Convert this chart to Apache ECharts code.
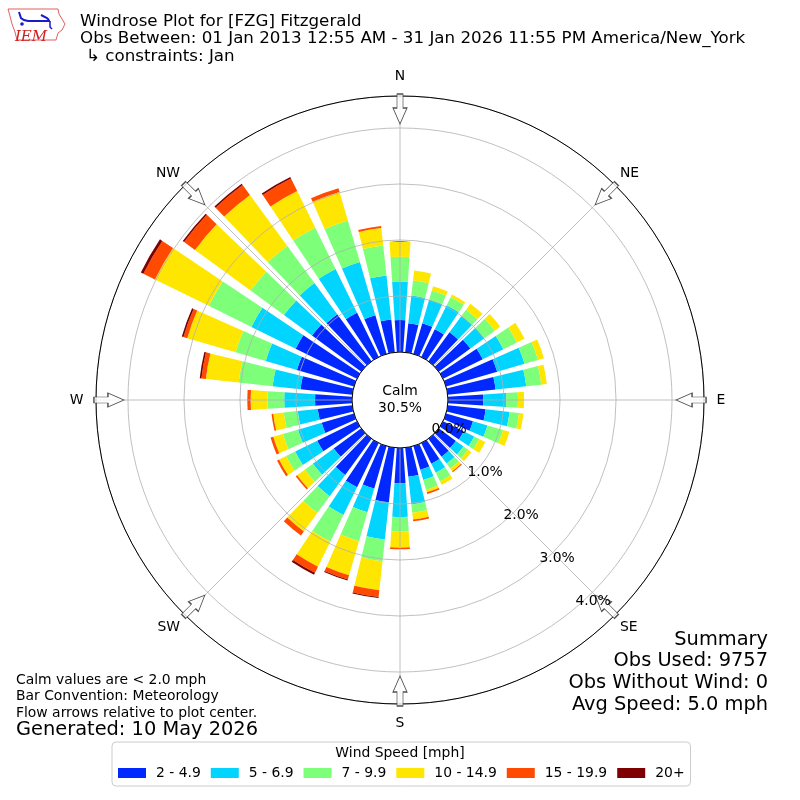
<!DOCTYPE html>
<html><head><meta charset="utf-8">
<script src="https://cdn.jsdelivr.net/npm/echarts@6/dist/echarts.min.js"></script>
<style>html,body{margin:0;padding:0;background:#fff}#c{width:800px;height:800px}</style>
</head><body><div id="c"></div>
<script>
// ---- data (percent of observations) ----
const directions = [0,10,20,30,40,50,60,70,80,90,100,110,120,130,140,150,160,170,180,190,200,210,220,230,240,250,260,270,280,290,300,310,320,330,340,350];
const speedBins = ['2 - 4.9','5 - 6.9','7 - 9.9','10 - 14.9','15 - 19.9','20+'];
const binColors = ['#0028ff','#00d4ff','#7dff7a','#ffe600','#ff4a00','#7f0000'];
const pct_2_5   = [0.57,0.52,0.57,0.55,0.64,0.70,0.79,0.95,0.86,0.63,0.68,0.50,0.41,0.38,0.40,0.41,0.44,0.52,0.63,0.98,0.79,0.88,0.80,0.61,0.79,0.60,0.62,0.66,0.93,1.06,1.22,1.09,1.04,0.88,0.72,0.59];
const pct_5_7   = [0.69,0.50,0.44,0.48,0.36,0.31,0.41,0.51,0.55,0.41,0.43,0.27,0.21,0.17,0.15,0.18,0.19,0.50,0.60,0.67,0.44,0.55,0.47,0.46,0.44,0.44,0.36,0.55,0.50,0.58,0.88,0.62,0.69,0.87,0.99,0.79];
const pct_7_10  = [0.44,0.27,0.17,0.16,0.14,0.23,0.27,0.25,0.27,0.21,0.17,0.29,0.10,0.10,0.11,0.17,0.18,0.15,0.26,0.39,0.54,0.53,0.37,0.18,0.18,0.28,0.25,0.30,0.61,0.56,0.85,0.74,0.82,0.82,0.77,0.54];
const pct_10_15 = [0.27,0.18,0.08,0.05,0.13,0.12,0.15,0.11,0.10,0.11,0.08,0.12,0.12,0.07,0.06,0.07,0.05,0.12,0.29,0.52,0.63,0.50,0.41,0.17,0.14,0.18,0.19,0.30,0.59,0.90,1.07,1.23,1.13,0.73,0.53,0.31];
const pct_15_20 = [0,0,0,0,0,0,0,0,0,0,0,0,0,0,0.02,0,0.03,0.03,0.03,0.12,0.08,0.12,0.09,0.03,0.04,0.05,0.03,0.06,0.08,0.07,0.23,0.24,0.22,0.25,0.07,0.04];
const pct_20p   = [0,0,0,0,0,0,0,0,0,0,0,0,0,0,0,0,0,0,0,0.02,0.02,0.04,0,0,0,0,0,0,0.03,0.03,0.05,0.03,0.03,0.03,0,0];
const calmPct = 30.5;
const radialTicks = [0,1,2,3,4];
const radialMax = 4.571;
const compassAngles = [0,45,90,135,180,225,270,315];
const compassLabels = ['N','NE','E','SE','S','SW','W','NW'];
const arrowRadius = 4.34;
const summaryLines = ['Summary','Obs Used: 9757','Obs Without Wind: 0','Avg Speed: 5.0 mph'];

const seriesValues = [pct_2_5, pct_5_7, pct_7_10, pct_10_15, pct_15_20, pct_20p];
const FONT = 'DejaVu Sans';

const chart = echarts.init(document.getElementById('c'), null, {renderer:'canvas'});

const barSeries = speedBins.map((name,i)=>({
  name, type:'bar', coordinateSystem:'polar', polarIndex:0, stack:'wind',
  data: seriesValues[i], barCategoryGap:'24%', z:2,
  itemStyle:{color:binColors[i]}, emphasis:{disabled:true}
}));

const arrowPath = 'path://M4,0 L10,0 L10,14 L14,14 L7,30 L0,14 L4,14 Z';
const arrowSeries = {
  type:'scatter', coordinateSystem:'polar', polarIndex:1, z:6,
  symbol: arrowPath, symbolSize:[14,30], silent:true,
  itemStyle:{color:'#ffffff', borderColor:'#222', borderWidth:1},
  data: compassAngles.map(a=>({value:[arrowRadius, a], symbolRotate:-a}))
};

const labelMap = {};
compassAngles.forEach((a,i)=>labelMap[a]=compassLabels[i]);
const isCardinal = a => a % 90 === 0;

const textCommon = {fontFamily:FONT, fill:'#000'};
const graphics = [
  {type:'text', left:80, top:13, style:Object.assign({text:'Windrose Plot for [FZG] Fitzgerald', fontSize:16.7}, textCommon)},
  {type:'text', left:80, top:30.5, style:Object.assign({text:'Obs Between: 01 Jan 2013 12:55 AM - 31 Jan 2026 11:55 PM America/New_York', fontSize:16.7}, textCommon)},
  {type:'text', left:86, top:48, style:Object.assign({text:'\u21b3 constraints: Jan', fontSize:16.7}, textCommon)},
  {type:'text', x:400, y:391, style:Object.assign({text:'Calm', fontSize:13.9, align:'center', verticalAlign:'middle'}, textCommon), z:20},
  {type:'text', x:400, y:408, style:Object.assign({text:calmPct.toFixed(1)+'%', fontSize:13.9, align:'center', verticalAlign:'middle'}, textCommon), z:20},
  {type:'text', x:16, y:680, style:Object.assign({text:'Calm values are < 2.0 mph', fontSize:13.9, verticalAlign:'middle'}, textCommon)},
  {type:'text', x:16, y:696.5, style:Object.assign({text:'Bar Convention: Meteorology', fontSize:13.9, verticalAlign:'middle'}, textCommon)},
  {type:'text', x:16, y:713, style:Object.assign({text:'Flow arrows relative to plot center.', fontSize:13.9, verticalAlign:'middle'}, textCommon)},
  {type:'text', x:16, y:730, style:Object.assign({text:'Generated: 10 May 2026', fontSize:19.4, verticalAlign:'middle'}, textCommon)},
  {type:'text', x:400, y:753, style:Object.assign({text:'Wind Speed [mph]', fontSize:13.9, align:'center', verticalAlign:'middle'}, textCommon), z:20},
  // IEM logo
  {type:'polyline', shape:{points:[[8,9],[58,9],[59,14],[62,19],[65,24],[62,30],[58,33],[56,40],[17,40],[15,32],[12,24],[10,16],[8,9]]}, style:{stroke:'#e06060', lineWidth:1, fill:null}},
  {type:'polyline', shape:{points:[[19,12],[21,18],[24,20],[28,21],[50,21]]}, style:{stroke:'#1a1acc', lineWidth:2, fill:null}},
  {type:'polyline', shape:{points:[[41,15],[47,18],[49,20]]}, style:{stroke:'#1a1acc', lineWidth:2, fill:null}},
  {type:'polyline', shape:{points:[[50,21],[50,27],[52,29]]}, style:{stroke:'#1a1acc', lineWidth:1.5, fill:null}},
  {type:'circle', shape:{cx:22, cy:24, r:1.8}, style:{fill:'#1a1acc'}},
  {type:'text', x:31, y:37, style:{text:'IEM', fontFamily:'DejaVu Serif', fontStyle:'italic', fontSize:15, fill:'#d02020', align:'center', verticalAlign:'middle'}}
];
summaryLines.forEach((t,i)=>{
  graphics.push({type:'text', x:768, y:639.5+i*21.8, style:Object.assign({text:t, fontSize:19.4, align:'right', verticalAlign:'middle'}, textCommon)});
});

const hiddenAngle = {axisLine:{show:false}, axisTick:{show:false}, axisLabel:{show:false}, splitLine:{show:false}};
const option = {
  backgroundColor:'#ffffff',
  animation:false,
  textStyle:{fontFamily:FONT},
  polar:[
    {center:[400,400], radius:[48,304]},
    {center:[400,400], radius:[48,304]},
    {center:[400,400], radius:[48,304]},
    {center:[400,400], radius:[48,304]}
  ],
  angleAxis:[
    Object.assign({polarIndex:0, type:'category', data:directions.map(String), startAngle:95, clockwise:true, boundaryGap:true}, hiddenAngle),
    {polarIndex:1, type:'value', min:0, max:360, interval:45, startAngle:90, clockwise:true, z:4,
     axisLine:{show:true, lineStyle:{color:'#000', width:1}}, axisTick:{show:false},
     splitLine:{show:true, lineStyle:{color:'#b0b0b0', width:0.8}},
     axisLabel:{show:true, margin:12.5, fontSize:13.9, color:'#000', fontFamily:FONT,
       formatter:v=>(v>=360 || !isCardinal(v) ? '' : (labelMap[v]||''))}},
    Object.assign({polarIndex:2, type:'value', min:0, max:360, startAngle:-50, clockwise:true}, hiddenAngle),
    {polarIndex:3, type:'value', min:0, max:360, interval:45, startAngle:90, clockwise:true, z:4,
     axisLine:{show:false}, axisTick:{show:false}, splitLine:{show:false},
     axisLabel:{show:true, margin:7, fontSize:13.9, color:'#000', fontFamily:FONT,
       formatter:v=>(v>=360 || isCardinal(v) ? '' : (labelMap[v]||''))}}
  ],
  radiusAxis:[
    {polarIndex:0, type:'value', min:0, max:radialMax, interval:1, z:3,
     axisLine:{show:false}, axisTick:{show:false}, axisLabel:{show:false},
     splitLine:{show:true, lineStyle:{color:'#b0b0b0', width:0.8}}},
    {polarIndex:1, type:'value', min:0, max:radialMax, show:false,
     axisLine:{show:false}, axisTick:{show:false}, axisLabel:{show:false}, splitLine:{show:false}},
    {polarIndex:2, type:'value', min:0, max:radialMax, interval:1, z:7,
     axisLine:{show:false}, axisTick:{show:false}, splitLine:{show:false},
     axisLabel:{show:true, margin:22.5, align:'center', verticalAlign:'top', padding:[0,0,0,2], fontSize:13.9, color:'#000', fontFamily:FONT,
       formatter:v=>(radialTicks.indexOf(v)>=0 ? v.toFixed(1)+'%' : '')}},
    {polarIndex:3, type:'value', min:0, max:radialMax, show:false,
     axisLine:{show:false}, axisTick:{show:false}, axisLabel:{show:false}, splitLine:{show:false}}
  ],
  legend:{
    data:speedBins, left:112, top:742, orient:'horizontal',
    padding:[24,6,6,6], itemWidth:28, itemHeight:10, itemGap:10, icon:'rect',
    borderColor:'#cccccc', borderWidth:1, borderRadius:4, backgroundColor:'#ffffff',
    textStyle:{fontSize:13.9, color:'#000', fontFamily:FONT, padding:[0,0,0,5]},
    selectedMode:false
  },
  series: barSeries.concat([arrowSeries]),
  graphic: graphics
};
chart.setOption(option);
</script></body></html>
